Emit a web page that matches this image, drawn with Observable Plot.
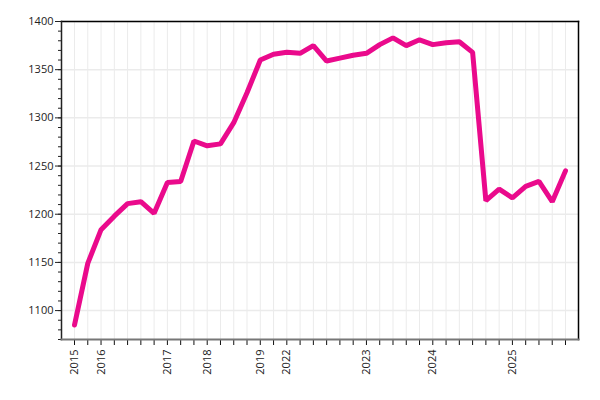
<!DOCTYPE html>
<html>
<head>
<meta charset="utf-8">
<script src="https://cdn.jsdelivr.net/npm/d3@7"></script>
<script src="https://cdn.jsdelivr.net/npm/@observablehq/plot@0.6"></script>
<style>
  html, body { margin: 0; padding: 0; background: #fff; }
  #chart svg { font-family: "Open Sans", sans-serif; }
</style>
</head>
<body>
<div id="chart"></div>
<script>
const labels = ["2015","","2016","","","","","2017","","","2018","","","","2019","","2022","","","","","","2023","","","","","2024","","","","","","2025","","","",""];
const values = [1085,1149,1184,1198,1211,1213,1201,1233,1234,1276,1271,1273,1295,1326,1360,1366,1368,1367,1375,1359,1362,1365,1367,1376,1383,1375,1381,1376,1378,1379,1368,1214,1226,1217,1229,1234,1213,1245];
const yMajor = [1100,1150,1200,1250,1300,1350,1400];
const yMinor = d3.range(1070, 1401, 10);

const idx = labels.map((_, i) => i);
const data = values.map((v, i) => ({i, v}));

const chart = Plot.plot({
  width: 600,
  height: 400,
  marginLeft: 61,
  marginRight: 22,
  marginTop: 21,
  marginBottom: 61,
  style: {fontSize: "11px", color: "#222", background: "#fff"},
  x: {type: "point", domain: idx, padding: 0.98, round: false},
  y: {domain: [1070, 1400]},
  marks: [
    Plot.gridX(idx, {stroke: "#ebebeb", strokeOpacity: 1, strokeWidth: 1}),
    Plot.gridY(yMajor, {stroke: "#ebebeb", strokeOpacity: 1, strokeWidth: 1.5}),
    Plot.axisY(yMinor, {tickSize: 3, tickFormat: () => "", label: null, stroke: "#222"}),
    Plot.axisY(yMajor, {tickSize: 6, label: null, stroke: "#222", tickPadding: 2, tickFormat: d3.format("d")}),
    Plot.axisX(idx, {tickSize: 6, tickRotate: -90, tickFormat: i => labels[i], label: null, stroke: "#111", tickPadding: 4}),
    Plot.frame({anchor: "top", stroke: "#000", strokeWidth: 1.5}),
    Plot.frame({anchor: "right", stroke: "#000", strokeWidth: 1.5}),
    Plot.frame({anchor: "left", stroke: "#222", strokeWidth: 1.5}),
    Plot.frame({anchor: "bottom", stroke: "#777", strokeWidth: 2}),
    Plot.line(data, {x: "i", y: "v", stroke: "#ea0a8c", strokeWidth: 5, strokeLinejoin: "miter", strokeLinecap: "round"})
  ]
});
document.getElementById("chart").appendChild(chart);
</script>
</body>
</html>
